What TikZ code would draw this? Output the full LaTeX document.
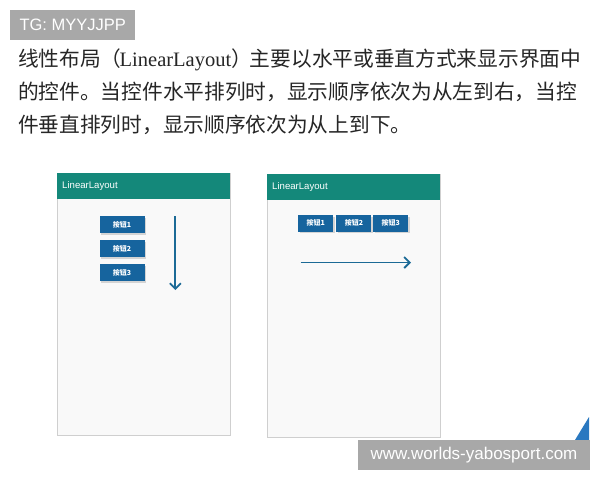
\documentclass[tikz,border=0pt]{standalone}
\usepackage{fontspec}
\setmainfont{Liberation Serif}
\newfontfamily\cjk{Noto Sans CJK SC}
\newfontfamily\uisans{Liberation Sans}
\usetikzlibrary{arrows.meta,shadows}
\definecolor{teal1}{HTML}{14887A}
\definecolor{btnblue}{HTML}{16649E}
\definecolor{arrowblue}{HTML}{1C6A96}
\definecolor{bodygray}{HTML}{F9F9F9}
\definecolor{framegray}{HTML}{CFCFCF}
\definecolor{wmgray}{HTML}{A8A8A8}
\definecolor{tri}{HTML}{2A78C0}
\begin{document}
\begin{tikzpicture}[x=1pt,y=-1pt,
  phonebody/.style={draw=framegray, line width=1pt, fill=bodygray},
  phonehead/.style={fill=teal1},
  headtext/.style={text=white, font=\uisans\fontsize{9.6}{10}\selectfont, anchor=west, inner sep=0pt},
  btn/.style={fill=btnblue, text=white, inner sep=0pt, font=\cjk\bfseries\fontsize{7}{7}\selectfont,
     drop shadow={shadow xshift=1.3pt, shadow yshift=-1.5pt, opacity=0.3}},
  flow/.style={draw=arrowblue, line width=1.8pt, -{Straight Barb[length=5.5pt,width=11pt]}},
  bodytext/.style={anchor=west, inner sep=0pt, font=\cjk\fontsize{20.7}{24}\selectfont, text=black!85},
  wm/.style={fill=wmgray, text=white, inner sep=0pt}
]
\useasboundingbox (0,0) rectangle (600,480);
\fill[white] (0,0) rectangle (600,480);

% top watermark
\node[wm, minimum width=125pt, minimum height=29.3pt, anchor=north west,
      font=\uisans\fontsize{16.5}{18}\selectfont] (tg) at (10,10) {TG: MYYJJPP};

% paragraph
\node[bodytext] (l1) at (18,60) {线性布局（\kern-2pt{\rmfamily\fontsize{20.5}{24}\selectfont LinearLayout}）\kern-2pt 主要以水平或垂直方式来显示界面中};
\node[bodytext] (l2) at (18,92) {的控件。当控件水平排列时，显示顺序依次为从左到右，当控};
\node[bodytext] (l3) at (18,125) {件垂直排列时，显示顺序依次为从上到下。};

% left phone
\draw[phonebody] (57,173) rectangle (230,435);
\fill[phonehead] (57,173) rectangle (230,199);
\node[headtext] (h1) at (62,186.5) {LinearLayout};
\node[btn, minimum width=45pt, minimum height=17pt] (v1) at (122,224.5) {按钮1};
\node[btn, minimum width=45pt, minimum height=17pt] (v2) at (122,248.5) {按钮2};
\node[btn, minimum width=45pt, minimum height=17pt] (v3) at (122,272.8) {按钮3};
\coordinate (va) at (175.3,216);
\coordinate (vb) at (175.3,290);
\draw[flow] (va) -- (vb);

% right phone
\draw[phonebody] (267,174) rectangle (440,437);
\fill[phonehead] (267,174) rectangle (440,200);
\node[headtext] (h2) at (272,187.5) {LinearLayout};
\node[btn, minimum width=35pt, minimum height=16.5pt] (r1) at (315.8,223.3) {按钮1};
\node[btn, minimum width=35pt, minimum height=16.5pt] (r2) at (353.9,223.3) {按钮2};
\node[btn, minimum width=35pt, minimum height=16.5pt] (r3) at (390.8,223.3) {按钮3};
\coordinate (ha) at (300.5,262.5);
\coordinate (hb) at (411,262.5);
\draw[flow] (ha) -- (hb);

% corner triangle
\fill[tri] (575,440) -- (589,417) -- (589,440) -- cycle;

% bottom watermark
\node[wm, minimum width=231.5pt, minimum height=30pt, anchor=north west,
      font=\uisans\fontsize{17}{18}\selectfont] (www) at (358,440) {www.worlds-yabosport.com};
\end{tikzpicture}
\end{document}
